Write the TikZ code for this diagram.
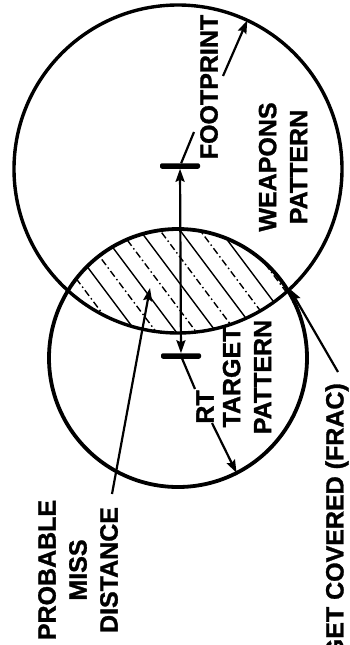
\documentclass[tikz,border=0pt]{standalone}
\usepackage{fontspec}
\setmainfont{Liberation Sans}[BoldFeatures={FakeBold=1.2}]
\usetikzlibrary{arrows.meta, calc}

\begin{document}
\begin{tikzpicture}[x=1pt, y=-1pt, >={Stealth[length=13pt, width=9pt, inset=2pt]},
        ring/.style={circle, draw, line width=3.4pt, inner sep=0pt, outer sep=0pt},
        tag/.style={rotate=90, align=center, inner sep=0pt, font=\fontsize{25}{31}\selectfont\bfseries},
        bar/.style={rectangle, fill=black, rounded corners=2pt, minimum width=40pt, minimum height=5.5pt, inner sep=0pt, outer sep=0pt},
        leader/.style={line width=2.2pt},
        arrow/.style={->, line width=2.2pt},
        hatch/.style={line width=1.4pt}
    ]
        \clip (0,0) rectangle (350,645);

        % hatched overlap
        \begin{scope}
            \clip (178,169) circle (164);
            \clip (178,358) circle (129);
            \foreach \i in {-6,-4,...,6}
                \draw[hatch] ({88+12.8*\i},{161-9.6*\i}) -- ++(180,240);
            \foreach \i in {-5,-3,...,5}
                \draw[hatch, dash pattern=on 7pt off 3pt on 1.5pt off 3pt] ({88+12.8*\i},{161-9.6*\i}) -- ++(180,240);
        \end{scope}

        \node[ring, minimum size=328pt] (wpn) at (178,169) {};
        \node[ring, minimum size=258pt, line width=3.8pt] (tpn) at (178,358) {};

        \node[bar] (wbar) at (180,166) {};
        \node[bar] (tbar) at (181,356) {};

        \node[tag] (fp) at (209,87) {FOOTPRINT};
        \node[tag] (wp) at (283,167) {WEAPONS\\PATTERN};
        \node[tag] (rt) at (205,407) {RT};
        \node[tag] (tp) at (247,377) {TARGET\\PATTERN};
        \node[tag] (pmd) at (78,570) {PROBABLE\\MISS\\DISTANCE};
        \node[tag, anchor=east] (frac) at (337,383) {TARGET COVERED (FRAC)};

        \coordinate (lensp) at (150,288);

        \draw[arrow, <->] (wbar) -- (tbar);

        \draw[leader] ([shift={(-15,45)}]fp.center) -- (wbar);
        \draw[arrow] ([shift={(14,-11)}]fp.center) -- (wpn.65);
        \draw[leader] ([shift={(-10,-18)}]rt.center) -- (tbar);
        \draw[arrow] ([shift={(7,16)}]rt.center) -- (tpn.-63);
        \draw[arrow] ([shift={(34,-76)}]pmd.center) -- (lensp);
        \draw[arrow] ([shift={(1,-11)}]frac.east) -- (wpn.-47.5);
    \end{tikzpicture}
\end{document}
